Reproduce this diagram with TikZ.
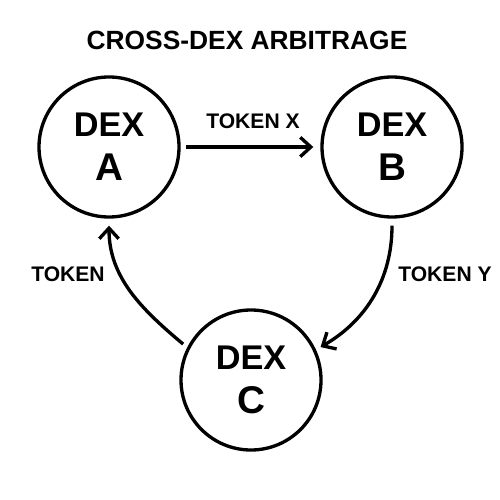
\documentclass[tikz,border=0pt]{standalone}
\usepackage{fontspec}
\setmainfont{Liberation Sans}
\usetikzlibrary{arrows.meta}
\begin{document}
\begin{tikzpicture}[-{Straight Barb[length=6pt,width=11pt]}, line width=1.9pt,
    dex/.style={draw, -, circle, minimum size=2.8cm, inner sep=0pt, align=center,
        font=\bfseries\fontsize{19.5}{25}\selectfont},
    token/.style={font=\bfseries\fontsize{12}{14}\selectfont}]
         \useasboundingbox (0,0) rectangle (10,-10);
         %nodes
         \node[font=\bfseries\fontsize{15}{17}\selectfont] at (4.94,-0.80) (title) {CROSS-DEX ARBITRAGE};
         \node[dex] at (2.18,-2.94) (dexa) {DEX\\{\fontsize{22}{22}\selectfont A}};
         \node[dex] at (7.84,-2.94) (dexb) {DEX\\{\fontsize{22}{22}\selectfont B}};
         \node[dex] at (5.02,-7.60) (dexc) {DEX\\{\fontsize{22}{22}\selectfont C}};
         \node[token] at (5.06,-2.42) (tokx) {TOKEN X};
         \node[token] at (8.90,-5.48) (toky) {TOKEN Y};
         \node[token] at (1.36,-5.48) (tok) {TOKEN};
         % arrows between nodes
         \draw[shorten <=3pt, shorten >=4pt] (dexa) -- (dexb);
         \draw[shorten <=4pt, shorten >=3pt] (dexb.south) to[out=-90, in=30] (dexc.25);
         \draw[shorten <=3pt, shorten >=4pt] (dexc.153) to[out=140, in=-90] (dexa.south);
        \end{tikzpicture}
\end{document}
